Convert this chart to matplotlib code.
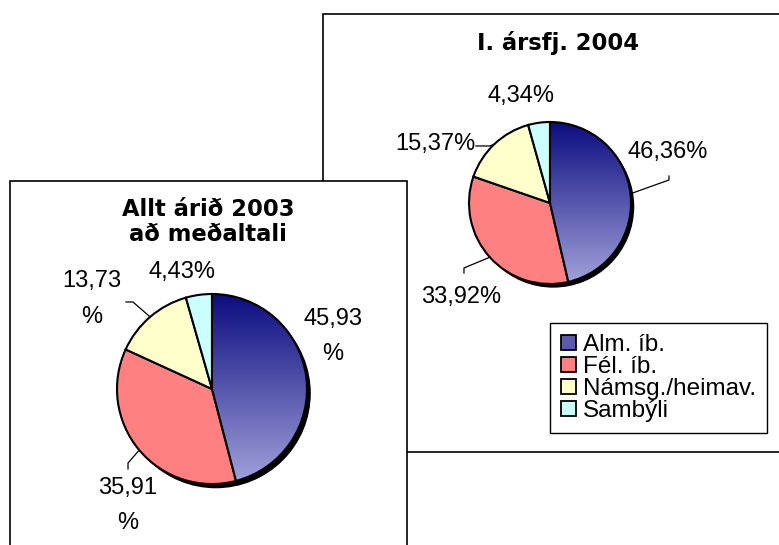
import numpy as np
import matplotlib
matplotlib.use('Agg')
import matplotlib.pyplot as plt
from matplotlib.patches import Rectangle, Circle, Patch

categories = ['Alm. íb.', 'Fél. íb.', 'Námsg./heimav.', 'Sambýli']
values_2003 = [45.93, 35.91, 13.73, 4.43]
values_2004 = [46.36, 33.92, 15.37, 4.34]
title_2003 = 'Allt árið 2003\nað meðaltali'
title_2004 = 'I. ársfj. 2004'

colors = ['#5a5aa8', '#ff8080', '#ffffcc', '#ccffff']
W, H = 779, 545

fig = plt.figure(figsize=(W / 100, H / 100), dpi=100)
fig.patch.set_facecolor('white')

# background layer in pixel coords for the two chart frames
bg = fig.add_axes([0, 0, 1, 1])
bg.set_xlim(0, W)
bg.set_ylim(H, 0)
bg.axis('off')
bg.add_patch(Rectangle((323, 14), 470, 438, facecolor='white', edgecolor='black', lw=1.2, zorder=1))
bg.add_patch(Rectangle((10, 181), 397, 380, facecolor='white', edgecolor='black', lw=1.2, zorder=2))

bg.text(558, 50, title_2004, ha='center', va='baseline', fontsize=16.3,
        fontweight='bold', family='DejaVu Sans', zorder=5)
# multi-line text with va='baseline' anchors the last line
bg.text(208, 241, title_2003, ha='center', va='baseline', fontsize=16.3,
        fontweight='bold', family='DejaVu Sans', linespacing=1.1, zorder=5)


def pct(v):
    return f'{v:.2f}%'.replace('.', ',')


def draw_pie(cx, cy, r, vals, labels, zorder):
    k = 1.3
    ax = fig.add_axes([(cx - k * r) / W, 1 - (cy + k * r) / H, 2 * k * r / W, 2 * k * r / H])
    ax.set_zorder(zorder)
    wedges, _ = ax.pie(vals, colors=colors, startangle=90, counterclock=False,
                       wedgeprops=dict(edgecolor='black', linewidth=1.5))
    ax.axis('off')
    # shadow
    ax.add_patch(Circle((0.04, -0.045), 1.0, facecolor='black', edgecolor='none', zorder=0))
    # gradient on the first wedge
    grad = np.linspace(0, 1, 256).reshape(-1, 1)
    cmap = matplotlib.colors.LinearSegmentedColormap.from_list('g', ['#0c0c80', '#a2a2da'])
    img = ax.imshow(grad, extent=(-1, 1, -1, 1), cmap=cmap, aspect='auto', zorder=1.5,
                    origin='upper')
    img.set_clip_path(wedges[0])
    wedges[0].set_facecolor('none')
    wedges[0].set_zorder(2)
    ax.set_xlim(-k, k)
    ax.set_ylim(-k, k)
    ax.set_aspect('equal')
    # mid angles from data
    cum = np.cumsum([0] + list(vals))
    total = cum[-1]
    mids = [np.deg2rad(90 - 360 * (cum[i] + cum[i + 1]) / 2 / total) for i in range(len(vals))]
    for i, (pos, leader) in enumerate(labels):
        ax.text(pos[0], pos[1], leader['text'], ha='center', va='center', fontsize=17,
                family='Liberation Sans', linespacing=1.8, zorder=5)
        if leader.get('pts'):
            xs = [np.cos(mids[i])] + [p[0] for p in leader['pts']]
            ys = [np.sin(mids[i])] + [p[1] for p in leader['pts']]
            ax.plot(xs, ys, color='black', lw=0.9, zorder=4, clip_on=False)
    return ax


labels_2004 = [
    ((1.457, 0.63), dict(text=pct(values_2004[0]), pts=[(1.469, 0.284), (1.469, 0.333)])),
    ((-1.10, -1.16), dict(text=pct(values_2004[1]), pts=[(-1.062, -0.802), (-1.062, -0.864)])),
    ((-1.42, 0.73), dict(text=pct(values_2004[2]), pts=[(-0.74, 0.704), (-0.914, 0.704)])),
    ((-0.358, 1.32), dict(text=pct(values_2004[3]))),
]
labels_2003 = [
    ((1.274, 0.553), dict(text=pct(values_2003[0]).replace('%', '\n%'))),
    ((-0.884, -1.226), dict(text=pct(values_2003[1]).replace('%', '\n%'),
                            pts=[(-0.884, -0.779), (-0.884, -0.842)])),
    ((-1.263, 0.947), dict(text=pct(values_2003[2]).replace('%', '\n%'),
                           pts=[(-0.832, 0.916), (-0.905, 0.916)])),
    ((-0.316, 1.232), dict(text=pct(values_2003[3]))),
]

draw_pie(550, 203, 81, values_2004, labels_2004, 3)
draw_pie(212, 389, 95, values_2003, labels_2003, 4)

handles = [Patch(facecolor=c, edgecolor='black', lw=1.3) for c in colors]
leg = fig.legend(handles, categories, loc='upper left', bbox_to_anchor=(550 / W, 1 - 323 / H),
                 bbox_transform=fig.transFigure, borderaxespad=0, fancybox=False,
                 edgecolor='black', framealpha=1, prop=dict(family='Liberation Sans', size=17.5),
                 handlelength=0.64, handleheight=0.55, handletextpad=0.25, labelspacing=0.0,
                 borderpad=0.45)
leg.get_frame().set_linewidth(1.0)
leg.set_zorder(10)

fig.savefig('out.png', dpi=100)
